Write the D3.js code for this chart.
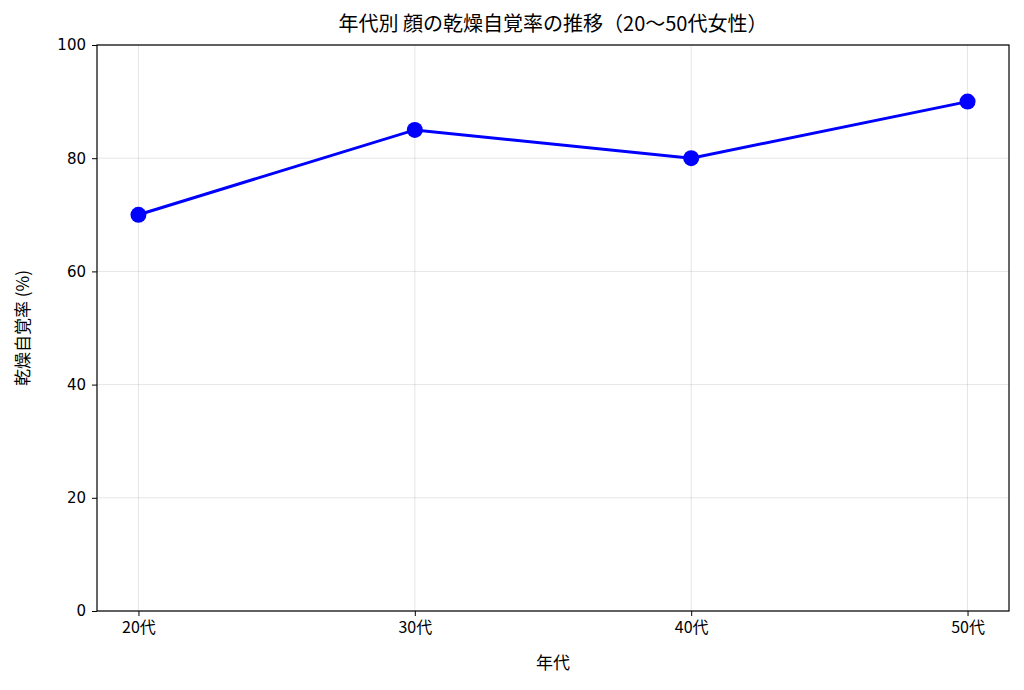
<!DOCTYPE html>
<html><head><meta charset="utf-8">
<script src="https://cdn.jsdelivr.net/npm/d3@7"></script>
<style>body{margin:0;background:#fff}text{font-family:"Noto Sans CJK JP","DejaVu Sans",sans-serif}</style>
</head><body><svg id="c" width="1024" height="690"></svg>
<script>
const categories = ["20代","30代","40代","50代"];
const values = [70,85,80,90];
const yTicks = [0,20,40,60,80,100];
const title = "年代別 顔の乾燥自覚率の推移（20〜50代女性）";
const xLabel = "年代";
const yLabel = "乾燥自覚率 (%)";

const svg = d3.select("#c");
const L=97,R=1009,T=45,B=611;
const x = d3.scaleLinear().domain([-0.15,3.15]).range([L,R]);
const y = d3.scaleLinear().domain([0,100]).range([B,T]);

const g = svg.append("g");
g.selectAll(".gy").data(yTicks).join("line").attr("x1",L).attr("x2",R)
 .attr("y1",d=>y(d)).attr("y2",d=>y(d)).attr("stroke","#000").attr("stroke-opacity",0.1);
g.selectAll(".gx").data(categories).join("line").attr("y1",T).attr("y2",B)
 .attr("x1",(d,i)=>x(i)).attr("x2",(d,i)=>x(i)).attr("stroke","#000").attr("stroke-opacity",0.1);

const ax = svg.append("g").attr("transform",`translate(0,${B})`)
 .call(d3.axisBottom(x).tickValues(d3.range(categories.length)).tickFormat(i=>categories[i]).tickSizeOuter(0).tickSize(5).tickPadding(6));
const ay = svg.append("g").attr("transform",`translate(${L},0)`)
 .call(d3.axisLeft(y).tickValues(yTicks).tickSizeOuter(0).tickSize(5).tickPadding(6));
[ax,ay].forEach(a=>{a.attr("font-size",16);a.selectAll("text").attr("fill","#000").style("font-family",'"DejaVu Sans","Noto Sans CJK JP",sans-serif');a.select(".domain").remove();});
ax.selectAll("text").style("font-family",'"Noto Sans CJK JP",sans-serif').style("font-size","16px");
ay.selectAll("text").style("font-size","15px");
svg.append("rect").attr("x",L).attr("y",T).attr("width",R-L).attr("height",B-T).attr("fill","none").attr("stroke","#000").attr("stroke-width",1.2);

svg.append("path").datum(values).attr("fill","none").attr("stroke","#0000ff").attr("stroke-width",3)
 .attr("d",d3.line().x((d,i)=>x(i)).y(d=>y(d)));
svg.selectAll(".pt").data(values).join("circle").attr("cx",(d,i)=>x(i)).attr("cy",d=>y(d)).attr("r",8).attr("fill","#0000ff");

svg.append("text").attr("x",(L+R)/2).attr("y",31).attr("text-anchor","middle").attr("font-size",20).text(title);
svg.append("text").attr("x",(L+R)/2).attr("y",669).attr("text-anchor","middle").attr("font-size",17).text(xLabel);
svg.append("text").attr("transform",`translate(29,${(T+B)/2}) rotate(-90)`).attr("text-anchor","middle").attr("font-size",17).text(yLabel);
</script></body></html>
